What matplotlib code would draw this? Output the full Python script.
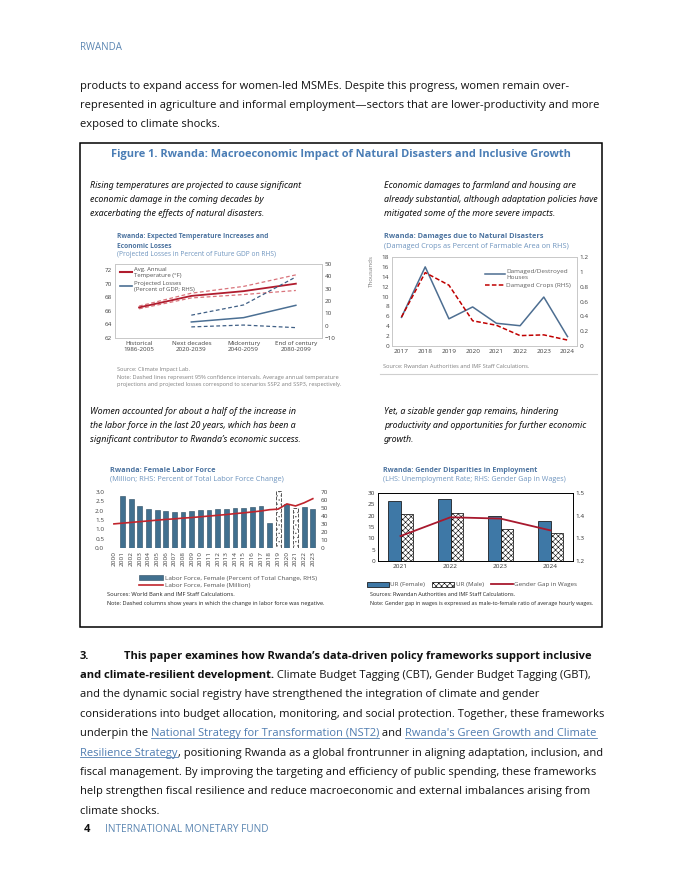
import numpy as np
import matplotlib
matplotlib.use('Agg')
import matplotlib.pyplot as plt
from matplotlib.patches import Rectangle, Patch
from matplotlib.lines import Line2D

plt.rcParams['font.family'] = ['Open Sans', 'DejaVu Sans']
plt.rcParams['hatch.linewidth'] = 0.4

# ---- data ----
tl_cats = ['Historical\n1986-2005', 'Next decades\n2020-2039', 'Midcentury\n2040-2059', 'End of century\n2080-2099']
temp_avg = [66.5, 68.2, 68.9, 70.0]
temp_hi = [66.7, 68.6, 69.6, 71.3]
temp_lo = [66.3, 67.9, 68.4, 69.0]
loss_avg = [np.nan, 3.0, 6.5, 16.5]
loss_hi = [np.nan, 8.5, 16.8, 39.5]
loss_lo = [np.nan, -1.0, 0.5, -1.6]

tr_years = [2017, 2018, 2019, 2020, 2021, 2022, 2023, 2024]
houses = [5.8, 16.0, 5.5, 7.9, 4.6, 4.1, 9.9, 1.9]
crops = [0.39, 0.99, 0.82, 0.34, 0.28, 0.14, 0.15, 0.08]

bl_years = ['2000', '2001', '2002', '2003', '2004', '2005', '2006', '2007', '2008', '2009', '2010', '2011',
            '2012', '2013', '2014', '2015', '2016', '2017', '2018', '2019', '2020', '2021', '2022', '2023']
lf_share = [np.nan, 65, 61, 53, 48.5, 47, 45.7, 45, 45, 46, 47.4, 47.6,
            48.5, 48.5, 49.7, 50, 51.3, 52.3, 31, 71, 55.3, 49.7, 51.3, 49]
lf_negative = [False] * 19 + [True, False, True, False, False]
lf_million = [1.29, 1.33, 1.37, 1.41, 1.45, 1.49, 1.53, 1.56, 1.60, 1.63, 1.67, 1.71,
              1.75, 1.79, 1.84, 1.88, 1.93, 1.98, 2.05, 2.08, 2.36, 2.25, 2.42, 2.64]

br_years = ['2021', '2022', '2023', '2024']
ur_female = [26.5, 27.3, 19.8, 17.7]
ur_male = [20.6, 21.1, 14.3, 12.4]
wage_gap = [1.31, 1.393, 1.387, 1.335]

# ---- page ----
W, H = 680, 880
fig = plt.figure(figsize=(6.8, 8.8), dpi=100)
R = fig.canvas.get_renderer()

BLUE_HEAD = '#5b86b2'
BLUE_TITLE = '#4a7db5'
CH_TITLE = '#4d74a0'
CH_SUB = '#6f95bf'
LINK = '#4f7cb0'


def T(x, y, s, **kw):
    kw.setdefault('va', 'center')
    return fig.text(x / W, 1 - y / H, s, **kw)


def fit(s, target, **kw):
    t = fig.text(0, 0, s, fontsize=10, **kw)
    w = t.get_window_extent(R).width
    t.remove()
    return 10 * target / w


def run(x, y, pieces, fs):
    for s, kw in pieces:
        kw = dict(kw)
        link = kw.pop('link', False)
        if link:
            kw['color'] = LINK
        t = T(x, y, s, fontsize=fs, **kw)
        bb = t.get_window_extent(R)
        if link:
            yy = (bb.y0 + 1.5) / H
            fig.add_artist(Line2D([bb.x0 / W, bb.x1 / W], [yy, yy], color=LINK, lw=0.6,
                                  transform=fig.transFigure))
        x += bb.width


def ax_at(l, t, r, b):
    return fig.add_axes([l / W, 1 - b / H, (r - l) / W, (b - t) / H])


def note(x, y, s, width, color):
    T(x, y, s, fontsize=fit(s, width), color=color)


body_fs = fit('represented in agriculture and informal employment\u2014sectors that are lower-productivity and more', 518)
bold = {'fontweight': 'bold'}
reg = {}
link = {'link': True}

T(80, 48, 'RWANDA', fontsize=7, color=BLUE_HEAD)

p1 = ['products to expand access for women-led MSMEs. Despite this progress, women remain over-',
      'represented in agriculture and informal employment\u2014sectors that are lower-productivity and more',
      'exposed to climate shocks.']
for i, s in enumerate(p1):
    T(80, 86 + 19.2 * i, s, fontsize=body_fs, color='#111111')

# box and figure title
fig.add_artist(Rectangle((80 / W, 1 - 627 / H), 522 / W, 484 / H, transform=fig.transFigure,
                         fill=False, lw=1.1, ec='black'))
tfs = fit('Figure 1. Rwanda: Macroeconomic Impact of Natural Disasters and Inclusive Growth', 458, fontweight='bold')
T(341, 154, 'Figure 1. Rwanda: Macroeconomic Impact of Natural Disasters and Inclusive Growth',
  fontsize=tfs, fontweight='bold', color=BLUE_TITLE, ha='center')

CAP_FONT = ['Noto Sans', 'DejaVu Sans']
cap_fs = fit('already substantial, although adaptation policies have', 215, style='italic', family=CAP_FONT)
caps = [
    (90, 185, ['Rising temperatures are projected to cause significant',
               'economic damage in the coming decades by',
               'exacerbating the effects of natural disasters.']),
    (384, 185, ['Economic damages to farmland and housing are',
                'already substantial, although adaptation policies have',
                'mitigated some of the more severe impacts.']),
    (90, 411, ['Women accounted for about a half of the increase in',
               'the labor force in the last 20 years, which has been a',
               'significant contributor to Rwanda\u2019s economic success.']),
    (384, 411, ['Yet, a sizable gender gap remains, hindering',
                'productivity and opportunities for further economic',
                'growth.']),
]
for x0, y0, lines in caps:
    for i, s in enumerate(lines):
        T(x0, y0 + 14 * i, s, fontsize=cap_fs, style='italic', family=CAP_FONT, color='#111111')


def chart_title(x, y, lines, sub, sub_w, gap=9.5):
    fs = fit(sub, sub_w)
    for i, s in enumerate(lines):
        T(x, y + gap * i, s, fontsize=fs, fontweight='bold', color=CH_TITLE)
    T(x, y + gap * len(lines), sub, fontsize=fs, color=CH_SUB)


def style_ax(ax, size, color='#404040'):
    ax.tick_params(length=0, labelsize=size, colors=color, pad=2)


# ---- top-left chart ----
chart_title(117, 237, ['Rwanda: Expected Temperature Increases and', 'Economic Losses'],
            '(Projected Losses in Percent of Future GDP on RHS)', 158, gap=9)
ax1 = ax_at(115, 264, 322, 338)
ax1b = ax1.twinx()
x = np.arange(len(tl_cats))
ax1.plot(x, temp_hi, color='#d9737b', lw=0.9, dashes=(3, 2))
ax1.plot(x, temp_lo, color='#d9737b', lw=0.9, dashes=(3, 2))
ax1.plot(x, temp_avg, color='#b01c2e', lw=1.3)
ax1b.plot(x, loss_hi, color='#3f5f85', lw=0.9, dashes=(3, 2))
ax1b.plot(x, loss_lo, color='#3f5f85', lw=0.9, dashes=(3, 2))
ax1b.plot(x, loss_avg, color='#4b6f93', lw=1.1)
ax1.set_xlim(-0.46, 3.5)
ax1.set_ylim(62, 72.9)
ax1.set_yticks([62, 64, 66, 68, 70, 72])
ax1b.set_ylim(-10, 50)
ax1b.set_yticks([-10, 0, 10, 20, 30, 40, 50])
ax1.set_xticks(x)
ax1.set_xticklabels(tl_cats, fontsize=4.3)
for a in (ax1, ax1b):
    style_ax(a, 4.5)
    for sp in a.spines.values():
        sp.set_color('#c8c8c8')
        sp.set_linewidth(0.6)
ax1b.legend([Line2D([], [], color='#b01c2e', lw=1.5), Line2D([], [], color='#4b6f93', lw=1.2)],
            ['Avg. Annual\nTemperature (\u00b0F)', 'Projected Losses\n(Percent of GDP; RHS)'],
            loc='upper left', bbox_to_anchor=(0.0, 1.03), fontsize=4.3, frameon=False,
            handlelength=2.0, handletextpad=0.3, labelspacing=0.5, labelcolor='#505050')
tl_note_fs = fit('projections and projected losses correspond to scenarios SSP2 and SSP3, respectively.', 226)
T(117, 369, 'Source: Climate Impact Lab.', fontsize=tl_note_fs, color='#7f7f7f')
T(117, 377, 'Note: Dashed lines represent 95% confidence intervals. Average annual temperature', fontsize=tl_note_fs, color='#7f7f7f')
T(117, 384.5, 'projections and projected losses correspond to scenarios SSP2 and SSP3, respectively.', fontsize=tl_note_fs, color='#7f7f7f')

# ---- top-right chart ----
chart_title(384, 237, ['Rwanda: Damages due to Natural Disasters'],
            '(Damaged Crops as Percent of Farmable Area on RHS)', 186)
ax2 = ax_at(392, 257, 577, 346)
ax2b = ax2.twinx()
ax2.plot(tr_years, houses, color='#4d6e91', lw=1.1)
ax2b.plot(tr_years, crops, color='#c00000', lw=1.1, dashes=(3, 1.5))
ax2.set_xlim(2016.6, 2024.4)
ax2.set_ylim(0, 18)
ax2.set_yticks(range(0, 19, 2))
ax2b.set_ylim(0, 1.2)
ax2b.set_yticks([0, 0.2, 0.4, 0.6, 0.8, 1.0, 1.2])
ax2b.set_yticklabels(['0', '0.2', '0.4', '0.6', '0.8', '1', '1.2'])
ax2.set_xticks(tr_years)
ax2.set_ylabel('Thousands', fontsize=4.5, color='#7f7f7f', labelpad=2)
ax2.yaxis.set_label_coords(-0.1, 0.84)
for a in (ax2, ax2b):
    style_ax(a, 4.6)
    for sp in a.spines.values():
        sp.set_color('#c8c8c8')
        sp.set_linewidth(0.6)
ax2b.legend([Line2D([], [], color='#4d6e91', lw=1.1), Line2D([], [], color='#c00000', lw=1.1, dashes=(3, 1.5))],
            ['Damaged/Destroyed\nHouses', 'Damaged Crops (RHS)'],
            loc='upper right', bbox_to_anchor=(1.0, 0.93), fontsize=4.6, frameon=False,
            handlelength=3.2, handletextpad=0.2, labelspacing=0.5, labelcolor='#606060')
note(383, 366, 'Source: Rwandan Authorities and IMF Staff Calculations.', 148, '#7f7f7f')
fig.add_artist(Line2D([380 / W, 597 / W], [1 - 374 / H, 1 - 374 / H], color='#cfcfcf', lw=0.8,
                      transform=fig.transFigure))

# ---- bottom-left chart ----
chart_title(110, 470, ['Rwanda: Female Labor Force'],
            '(Million; RHS: Percent of Total Labor Force Change)', 175)
ax3 = ax_at(107, 491, 318, 548)
ax3b = ax3.twinx()
xb = np.arange(len(bl_years))
for xi, v, neg in zip(xb, lf_share, lf_negative):
    if np.isnan(v):
        continue
    if neg:
        ax3b.bar(xi, v, width=0.55, facecolor='white', edgecolor='#555555', hatch='....', lw=0.7, ls='--')
    else:
        ax3b.bar(xi, v, width=0.55, color='#41708f', edgecolor='#2b4a60', lw=0.4)
ax3.plot(xb, lf_million, color='#c0252d', lw=1.2)
ax3.set_zorder(ax3b.get_zorder() + 1)
ax3.patch.set_visible(False)
ax3.set_xlim(-0.8, 23.6)
ax3.set_ylim(0, 3.05)
ax3.set_yticks([0, 0.5, 1.0, 1.5, 2.0, 2.5, 3.0])
ax3.set_yticklabels(['0.0', '0.5', '1.0', '1.5', '2.0', '2.5', '3.0'])
ax3b.set_ylim(0, 71.2)
ax3b.set_yticks(range(0, 71, 10))
ax3.set_xticks(xb)
ax3.set_xticklabels(bl_years, rotation=90, fontsize=4.5)
for a in (ax3, ax3b):
    style_ax(a, 4.6)
    for sp in a.spines.values():
        sp.set_visible(False)
ax3.legend([Patch(facecolor='#41708f', edgecolor='#2b4a60', lw=0.4), Line2D([], [], color='#c0252d', lw=1.2)],
           ['Labor Force, Female (Percent of Total Change, RHS)', 'Labor Force, Female (Million)'],
           loc='upper center', bbox_to_anchor=(228 / W, 1 - 569 / H), bbox_transform=fig.transFigure,
           fontsize=4.6, frameon=False, handlelength=3.8, handleheight=0.9, handletextpad=0.2,
           labelspacing=0.3, labelcolor='#505050')
note(107, 594, 'Sources: World Bank and IMF Staff Calculations.', 128, '#222222')
note(107, 603, 'Note: Dashed columns show years in which the change in labor force was negative.', 218, '#222222')

# ---- bottom-right chart ----
chart_title(383, 470, ['Rwanda: Gender Disparities in Employment'],
            '(LHS: Unemployment Rate; RHS: Gender Gap in Wages)', 183)
ax4 = ax_at(378, 493, 573, 561)
ax4b = ax4.twinx()
xr = np.arange(len(br_years))
ax4.bar(xr - 0.125, ur_female, width=0.25, color='#3e78a6', edgecolor='black', lw=0.5)
ax4.bar(xr + 0.125, ur_male, width=0.25, facecolor='white', edgecolor='black', hatch='xxxxxx', lw=0.5)
ax4b.plot(xr, wage_gap, color='#a8192e', lw=1.3)
ax4.set_xlim(-0.45, 3.45)
ax4.set_ylim(0, 30)
ax4.set_yticks(range(0, 31, 5))
ax4b.set_ylim(1.2, 1.5)
ax4b.set_yticks([1.2, 1.3, 1.4, 1.5])
ax4.set_xticks(xr)
ax4.set_xticklabels(br_years)
for a in (ax4, ax4b):
    style_ax(a, 4.6, '#303030')
    for sp in a.spines.values():
        sp.set_color('black')
        sp.set_linewidth(0.6)
ax4.legend([Patch(facecolor='#3e78a6', edgecolor='black', lw=0.5),
            Patch(facecolor='white', edgecolor='black', hatch='xxxxxx', lw=0.5),
            Line2D([], [], color='#a8192e', lw=1.3)],
           ['UR (Female)', 'UR (Male)', 'Gender Gap in Wages'], ncol=3,
           loc='upper center', bbox_to_anchor=(472 / W, 1 - 576 / H), bbox_transform=fig.transFigure,
           fontsize=4.5, frameon=False, handlelength=3.5, handleheight=0.9, handletextpad=0.2,
           columnspacing=1.2, labelcolor='#505050')
note(370, 594, 'Sources: Rwandan Authorities and IMF Staff Calculations.', 146, '#222222')
note(370, 603, 'Note: Gender gap in wages is expressed as male-to-female ratio of average hourly wages.', 224, '#222222')

# ---- paragraph 3 ----
p3 = [
    [('3.', bold)],
    [('and climate-resilient development.', bold), (' Climate Budget Tagging (CBT), Gender Budget Tagging (GBT),', reg)],
    [('and the dynamic social registry have strengthened the integration of climate and gender', reg)],
    [('considerations into budget allocation, monitoring, and social protection. Together, these frameworks', reg)],
    [('underpin the ', reg), ('National Strategy for Transformation (NST2)', link), (' and ', reg),
     ('Rwanda\'s Green Growth and Climate', link)],
    [('Resilience Strategy', link), (', positioning Rwanda as a global frontrunner in aligning adaptation, inclusion, and', reg)],
    [('fiscal management. By improving the targeting and efficiency of public spending, these frameworks', reg)],
    [('help strengthen fiscal resilience and reduce macroeconomic and external imbalances arising from', reg)],
    [('climate shocks.', reg)],
]
for i, pieces in enumerate(p3):
    pieces = [(s, dict(kw, color='#111111') if not kw.get('link') else kw) for s, kw in pieces]
    run(80, 656 + 19.4 * i, pieces, body_fs)
run(124, 656, [('This paper examines how Rwanda\u2019s data-driven policy frameworks support inclusive',
                {'fontweight': 'bold', 'color': '#111111'})], body_fs)

# ---- footer ----
T(84, 829, '4', fontsize=8, fontweight='bold', color='#111111')
T(105, 829, 'INTERNATIONAL MONETARY FUND', fontsize=7.2, color=BLUE_HEAD)

fig.savefig('out.png', dpi=100)
